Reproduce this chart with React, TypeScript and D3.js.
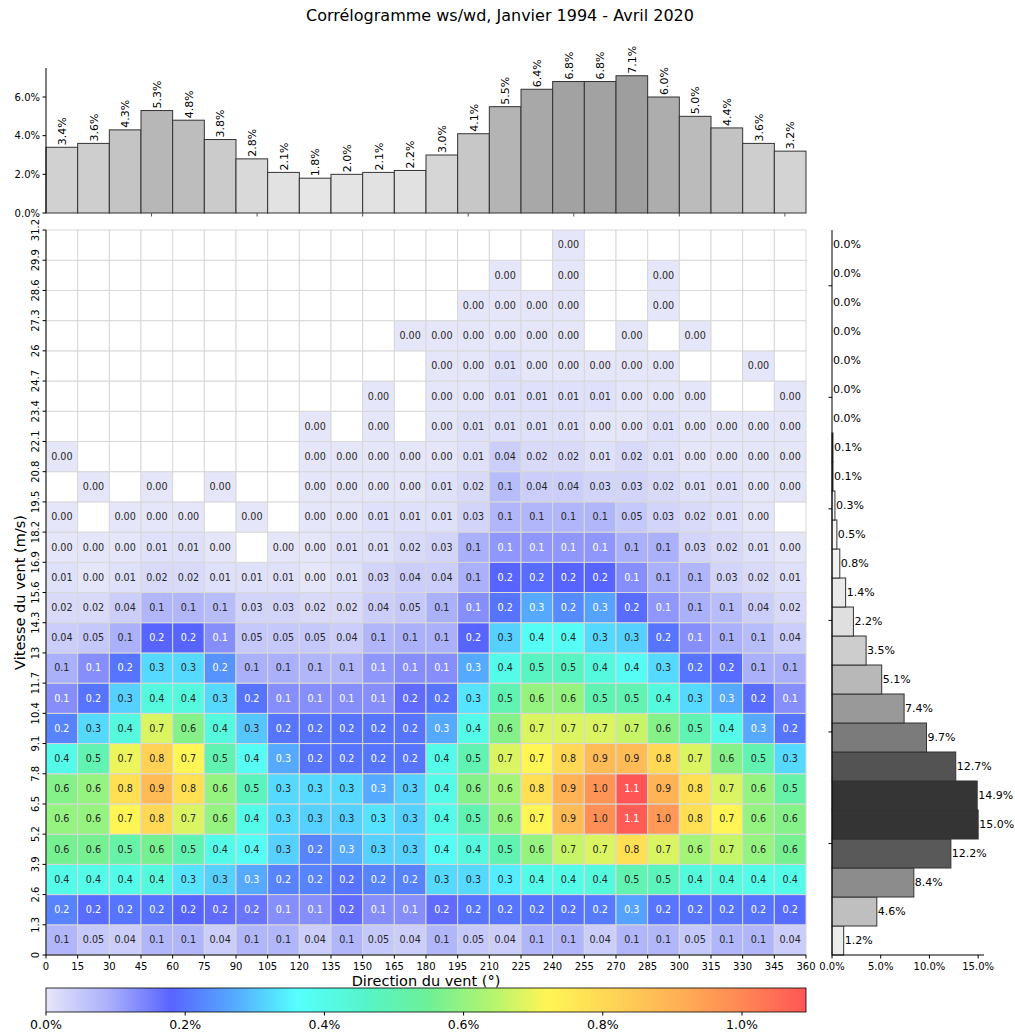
import React, { useEffect, useRef } from 'react'
import { select, scaleLinear, rgb } from 'd3'

const N = null

// direction bins (deg) and speed bins (m/s)
const dirTicks = [0, 15, 30, 45, 60, 75, 90, 105, 120, 135, 150, 165, 180, 195, 210, 225, 240, 255, 270, 285, 300, 315, 330, 345, 360]
const speedTicks = ['0', '1.3', '2.6', '3.9', '5.2', '6.5', '7.8', '9.1', '10.4', '11.7', '13', '14.3', '15.6', '16.9', '18.2', '19.5', '20.8', '22.1', '23.4', '24.7', '26', '27.3', '28.6', '29.9', '31.2']

// joint frequency (%), rows from top (29.9-31.2) down to bottom (0-1.3)
const row23 = [N, N, N, N, N, N, N, N, N, N, N, N, N, N, N, N, 0, N, N, N, N, N, N, N]
const row22 = [N, N, N, N, N, N, N, N, N, N, N, N, N, N, 0, N, 0, N, N, 0, N, N, N, N]
const row21 = [N, N, N, N, N, N, N, N, N, N, N, N, N, 0, 0, 0, 0, N, N, 0, N, N, N, N]
const row20 = [N, N, N, N, N, N, N, N, N, N, N, 0, 0, 0, 0, 0, 0, N, 0, N, 0, N, N, N]
const row19 = [N, N, N, N, N, N, N, N, N, N, N, N, 0, 0, 0.01, 0, 0, 0, 0, 0, N, N, 0, N]
const row18 = [N, N, N, N, N, N, N, N, N, N, 0, N, 0, 0, 0.01, 0.01, 0.01, 0.01, 0, 0, 0, N, N, 0]
const row17 = [N, N, N, N, N, N, N, N, 0, N, 0, N, 0, 0.01, 0.01, 0.01, 0.01, 0, 0, 0.01, 0, 0, 0, 0]
const row16 = [0, N, N, N, N, N, N, N, 0, 0, 0, 0, 0, 0.01, 0.04, 0.02, 0.02, 0.01, 0.02, 0.01, 0, 0, 0, 0]
const row15 = [N, 0, N, 0, N, 0, N, N, 0, 0, 0, 0, 0.01, 0.02, 0.07, 0.04, 0.04, 0.03, 0.03, 0.02, 0.01, 0.01, 0, 0]
const row14 = [0, N, 0, 0, 0, N, 0, N, 0, 0, 0.01, 0.01, 0.01, 0.03, 0.08, 0.08, 0.08, 0.08, 0.05, 0.03, 0.02, 0.01, 0, N]
const row13 = [0, 0, 0, 0.01, 0.01, 0, N, 0, 0, 0.01, 0.01, 0.02, 0.03, 0.09, 0.12, 0.12, 0.12, 0.12, 0.09, 0.09, 0.03, 0.02, 0.01, 0]
const row12 = [0.01, 0, 0.01, 0.02, 0.02, 0.01, 0.01, 0.01, 0, 0.01, 0.03, 0.04, 0.04, 0.09, 0.18, 0.19, 0.18, 0.18, 0.13, 0.09, 0.08, 0.03, 0.02, 0.01]
const row11 = [0.02, 0.02, 0.04, 0.08, 0.08, 0.07, 0.03, 0.03, 0.02, 0.02, 0.04, 0.05, 0.09, 0.13, 0.2, 0.27, 0.23, 0.26, 0.19, 0.12, 0.09, 0.07, 0.04, 0.02]
const row10 = [0.04, 0.05, 0.09, 0.18, 0.18, 0.13, 0.05, 0.05, 0.05, 0.04, 0.08, 0.09, 0.09, 0.18, 0.31, 0.38, 0.38, 0.32, 0.31, 0.2, 0.13, 0.09, 0.07, 0.04]
const row9 = [0.09, 0.13, 0.2, 0.32, 0.32, 0.24, 0.09, 0.09, 0.08, 0.08, 0.12, 0.13, 0.13, 0.27, 0.4, 0.47, 0.47, 0.42, 0.38, 0.32, 0.2, 0.19, 0.09, 0.09]
const row8 = [0.13, 0.2, 0.31, 0.42, 0.42, 0.32, 0.2, 0.13, 0.13, 0.13, 0.13, 0.17, 0.2, 0.33, 0.5, 0.6, 0.6, 0.5, 0.5, 0.42, 0.32, 0.27, 0.19, 0.13]
const row7 = [0.22, 0.32, 0.42, 0.68, 0.58, 0.42, 0.3, 0.2, 0.2, 0.2, 0.2, 0.2, 0.27, 0.4, 0.58, 0.68, 0.68, 0.68, 0.66, 0.58, 0.5, 0.4, 0.27, 0.2]
const row6 = [0.4, 0.5, 0.7, 0.82, 0.72, 0.5, 0.38, 0.27, 0.2, 0.2, 0.2, 0.2, 0.4, 0.5, 0.68, 0.72, 0.8, 0.88, 0.88, 0.8, 0.68, 0.58, 0.5, 0.32]
const row5 = [0.58, 0.6, 0.78, 0.88, 0.78, 0.6, 0.48, 0.32, 0.32, 0.32, 0.27, 0.31, 0.4, 0.58, 0.62, 0.78, 0.9, 0.97, 1.09, 0.9, 0.78, 0.68, 0.6, 0.52]
const row4 = [0.6, 0.6, 0.72, 0.8, 0.68, 0.6, 0.4, 0.32, 0.31, 0.31, 0.33, 0.31, 0.4, 0.5, 0.6, 0.72, 0.88, 0.98, 1.08, 0.96, 0.78, 0.72, 0.6, 0.58]
const row3 = [0.56, 0.56, 0.52, 0.56, 0.5, 0.4, 0.38, 0.31, 0.22, 0.27, 0.31, 0.31, 0.38, 0.42, 0.5, 0.6, 0.66, 0.68, 0.78, 0.68, 0.62, 0.66, 0.6, 0.56]
const row2 = [0.4, 0.4, 0.4, 0.42, 0.33, 0.31, 0.27, 0.22, 0.22, 0.2, 0.22, 0.22, 0.32, 0.32, 0.34, 0.4, 0.4, 0.42, 0.5, 0.48, 0.42, 0.42, 0.4, 0.4]
const row1 = [0.22, 0.19, 0.2, 0.2, 0.18, 0.17, 0.16, 0.13, 0.13, 0.17, 0.13, 0.13, 0.17, 0.2, 0.2, 0.2, 0.2, 0.21, 0.26, 0.2, 0.2, 0.2, 0.2, 0.19]
const row0 = [0.08, 0.05, 0.04, 0.08, 0.08, 0.04, 0.08, 0.08, 0.04, 0.08, 0.05, 0.04, 0.08, 0.05, 0.04, 0.08, 0.08, 0.04, 0.08, 0.08, 0.05, 0.08, 0.08, 0.04]
const cellRows = [row0, row1, row2, row3, row4, row5, row6, row7, row8, row9, row10, row11, row12, row13, row14, row15, row16, row17, row18, row19, row20, row21, row22, row23]

// marginal distributions (%)
const dirPct = [3.4, 3.6, 4.3, 5.3, 4.8, 3.8, 2.8, 2.1, 1.8, 2.0, 2.1, 2.2, 3.0, 4.1, 5.5, 6.4, 6.8, 6.8, 7.1, 6.0, 5.0, 4.4, 3.6, 3.2]
const speedPct = [1.2, 4.6, 8.4, 12.2, 15.0, 14.9, 12.7, 9.7, 7.4, 5.1, 3.5, 2.2, 1.4, 0.8, 0.5, 0.3, 0.1, 0.1, 0.0, 0.0, 0.0, 0.0, 0.0, 0.0, 0.0]

const topTicks = [0, 2, 4, 6]
const rightTicks = [0, 5, 10, 15]
const cbarTicks = [0, 0.2, 0.4, 0.6, 0.8, 1.0]

const cmapStops = [0, 0.09, 0.18, 0.27, 0.36, 0.46, 0.55, 0.64, 0.72, 0.82, 0.91, 1.0, 1.092]
const cmapColors = ['#e6e6fa', '#aab0fa', '#5864ff', '#55aaff', '#55ffff', '#55f5c8', '#6ef096', '#b4f56e', '#fff555', '#ffd255', '#ffaf55', '#ff8755', '#ff5555']

const FONT = 'DejaVu Sans, sans-serif'

function fmt(v: number) {
  return v < 0.055 ? v.toFixed(2) : v.toFixed(1)
}

function lum(c: string) {
  const k = rgb(c)
  const f = (v: number) => {
    v /= 255
    return v <= 0.03928 ? v / 12.92 : Math.pow((v + 0.055) / 1.055, 2.4)
  }
  return 0.2126 * f(k.r) + 0.7152 * f(k.g) + 0.0722 * f(k.b)
}

function App() {
  const ref = useRef<SVGSVGElement>(null)

  const hm = { left: 46, right: 806, top: 230, bottom: 955 }
  const topH = { top: 68, bottom: 213 }
  const rightH = { left: 832, right: 984 }

  useEffect(() => {
    const svg = select(ref.current)
    svg.selectAll('*').remove()
    svg.style('font-family', FONT)

    const x = scaleLinear().domain([0, 360]).range([hm.left, hm.right])
    const yi = scaleLinear().domain([0, 24]).range([hm.bottom, hm.top])
    const color = scaleLinear<string>().domain(cmapStops).range(cmapColors).clamp(true)

    svg.append('text').attr('x', 500).attr('y', 21).attr('text-anchor', 'middle')
      .style('font-size', '16px').text('Corrélogramme ws/wd, Janvier 1994 - Avril 2020')

    // heatmap cells
    const cells: { r: number, c: number, v: number | null }[] = []
    cellRows.forEach((row, r) => row.forEach((v, c) => cells.push({ r, c, v })))
    const g = svg.append('g')
    g.selectAll('rect').data(cells).join('rect')
      .attr('x', d => x(d.c * 15))
      .attr('y', d => yi(d.r + 1))
      .attr('width', x(15) - x(0))
      .attr('height', yi(0) - yi(1))
      .attr('fill', d => d.v === null ? '#ffffff' : color(d.v))
      .attr('stroke', '#d8d8d8').attr('stroke-width', 1)
    g.selectAll('text').data(cells.filter(d => d.v !== null)).join('text')
      .attr('x', d => x(d.c * 15 + 7.5))
      .attr('y', d => yi(d.r + 0.5))
      .attr('dy', '0.35em')
      .attr('text-anchor', 'middle')
      .style('font-size', '9.6px')
      .attr('fill', d => lum(color(d.v as number)) > 0.408 ? '#262626' : '#ffffff')
      .text(d => fmt(d.v as number))

    // heatmap axes
    const ax = svg.append('g')
    ax.append('line').attr('x1', hm.left).attr('x2', hm.left).attr('y1', hm.top).attr('y2', hm.bottom).attr('stroke', '#000').attr('stroke-width', 1)
    ax.append('line').attr('x1', hm.left).attr('x2', hm.right).attr('y1', hm.bottom).attr('y2', hm.bottom).attr('stroke', '#000').attr('stroke-width', 1)
    dirTicks.forEach(t => {
      ax.append('line').attr('x1', x(t)).attr('x2', x(t)).attr('y1', hm.bottom).attr('y2', hm.bottom + 3.5).attr('stroke', '#000')
      ax.append('text').attr('x', x(t)).attr('y', hm.bottom + 15).attr('text-anchor', 'middle').style('font-size', '10px').text(t)
    })
    speedTicks.forEach((t, i) => {
      ax.append('line').attr('x1', hm.left - 3.5).attr('x2', hm.left).attr('y1', yi(i)).attr('y2', yi(i)).attr('stroke', '#000')
      ax.append('text').attr('transform', `translate(${hm.left - 7},${yi(i)}) rotate(-90)`)
        .attr('text-anchor', 'middle').style('font-size', '10px').text(t)
    })
    ax.append('text').attr('x', (hm.left + hm.right) / 2).attr('y', 986).attr('text-anchor', 'middle')
      .style('font-size', '14.5px').text('Direction du vent (°)')
    ax.append('text').attr('transform', `translate(25,${(hm.top + hm.bottom) / 2}) rotate(-90)`).attr('text-anchor', 'middle')
      .style('font-size', '14.5px').text('Vitesse du vent (m/s)')

    // top histogram (direction)
    const yT = scaleLinear().domain([0, 7.5]).range([topH.bottom, topH.top])
    const greyT = scaleLinear().domain([0, 7.1]).range([255, 158])
    const gt = svg.append('g')
    gt.selectAll('rect').data(dirPct).join('rect')
      .attr('x', (d, i) => x(i * 15)).attr('width', x(15) - x(0))
      .attr('y', d => yT(d)).attr('height', d => yT(0) - yT(d))
      .attr('fill', d => { const v = Math.round(greyT(d)); return rgb(v, v, v).toString() })
      .attr('stroke', '#333').attr('stroke-width', 1)
    gt.selectAll('text.lbl').data(dirPct).join('text').attr('class', 'lbl')
      .attr('transform', (d, i) => `translate(${x(i * 15 + 7.5) + 4},${yT(d) - 2}) rotate(-90)`)
      .style('font-size', '11px').text(d => d.toFixed(1) + '%')
    gt.append('line').attr('x1', hm.left).attr('x2', hm.left).attr('y1', topH.top).attr('y2', topH.bottom).attr('stroke', '#000')
    topTicks.forEach(t => {
      gt.append('line').attr('x1', hm.left - 3.5).attr('x2', hm.left).attr('y1', yT(t)).attr('y2', yT(t)).attr('stroke', '#000')
      gt.append('text').attr('x', hm.left - 6).attr('y', yT(t)).attr('dy', '0.35em').attr('text-anchor', 'end')
        .style('font-size', '10px').text(t.toFixed(1) + '%')
    })
    ;[50, 100, 150, 200, 250, 300, 350].forEach(t => {
      gt.append('line').attr('x1', x(t)).attr('x2', x(t)).attr('y1', topH.bottom).attr('y2', topH.bottom + 3.5).attr('stroke', '#555')
    })

    // right histogram (speed)
    const yR = scaleLinear().domain([0, 32.5]).range([hm.bottom, hm.top])
    const xR = scaleLinear().domain([0, 15.6]).range([rightH.left, rightH.right])
    const greyR = scaleLinear().domain([0, 15]).range([252, 52])
    const gr = svg.append('g')
    gr.selectAll('rect').data(speedPct).join('rect')
      .attr('x', rightH.left).attr('width', d => xR(d) - xR(0))
      .attr('y', (d, i) => yR((i + 1) * 1.3)).attr('height', yR(0) - yR(1.3))
      .attr('fill', d => { const v = Math.round(greyR(d)); return rgb(v, v, v).toString() })
      .attr('stroke', '#333').attr('stroke-width', 1)
    gr.selectAll('text.lbl').data(speedPct).join('text').attr('class', 'lbl')
      .attr('x', d => xR(d) + 1).attr('y', (d, i) => yR(i * 1.3 + 0.65)).attr('dy', '0.35em')
      .style('font-size', '11px').text(d => d.toFixed(1) + '%')
    gr.append('line').attr('x1', rightH.left).attr('x2', rightH.left).attr('y1', hm.top).attr('y2', hm.bottom).attr('stroke', '#000')
    gr.append('line').attr('x1', rightH.left).attr('x2', rightH.right).attr('y1', hm.bottom).attr('y2', hm.bottom).attr('stroke', '#000')
    ;[5, 10, 15, 20, 25, 30].forEach(t => {
      gr.append('line').attr('x1', rightH.left - 3.5).attr('x2', rightH.left).attr('y1', yR(t)).attr('y2', yR(t)).attr('stroke', '#000')
    })
    rightTicks.forEach(t => {
      gr.append('line').attr('x1', xR(t)).attr('x2', xR(t)).attr('y1', hm.bottom).attr('y2', hm.bottom + 3.5).attr('stroke', '#000')
      gr.append('text').attr('x', xR(t)).attr('y', hm.bottom + 15).attr('text-anchor', 'middle').style('font-size', '10px').text(t.toFixed(1) + '%')
    })

    // colorbar
    const cb = { left: 46, right: 806, top: 988, bottom: 1012 }
    const xc = scaleLinear().domain([0, 1.092]).range([cb.left, cb.right])
    const grad = svg.append('defs').append('linearGradient').attr('id', 'cbar')
      .attr('x1', '0%').attr('x2', '100%').attr('y1', '0%').attr('y2', '0%')
    cmapStops.forEach((s, i) => {
      grad.append('stop').attr('offset', `${(s / 1.092) * 100}%`).attr('stop-color', cmapColors[i])
    })
    svg.append('rect').attr('x', cb.left).attr('y', cb.top).attr('width', cb.right - cb.left).attr('height', cb.bottom - cb.top)
      .attr('fill', 'url(#cbar)').attr('stroke', '#000').attr('stroke-width', 0.8)
    cbarTicks.forEach(t => {
      svg.append('line').attr('x1', xc(t)).attr('x2', xc(t)).attr('y1', cb.bottom).attr('y2', cb.bottom + 3.5).attr('stroke', '#000')
      svg.append('text').attr('x', xc(t)).attr('y', cb.bottom + 17).attr('text-anchor', 'middle').style('font-size', '12.5px').text(t.toFixed(1) + '%')
    })
  }, [])

  return (
    <svg ref={ref} width={1015} height={1034} style={{ position: 'absolute', left: 0, top: 0, background: '#fff' }}></svg>
  )
}

export default App
